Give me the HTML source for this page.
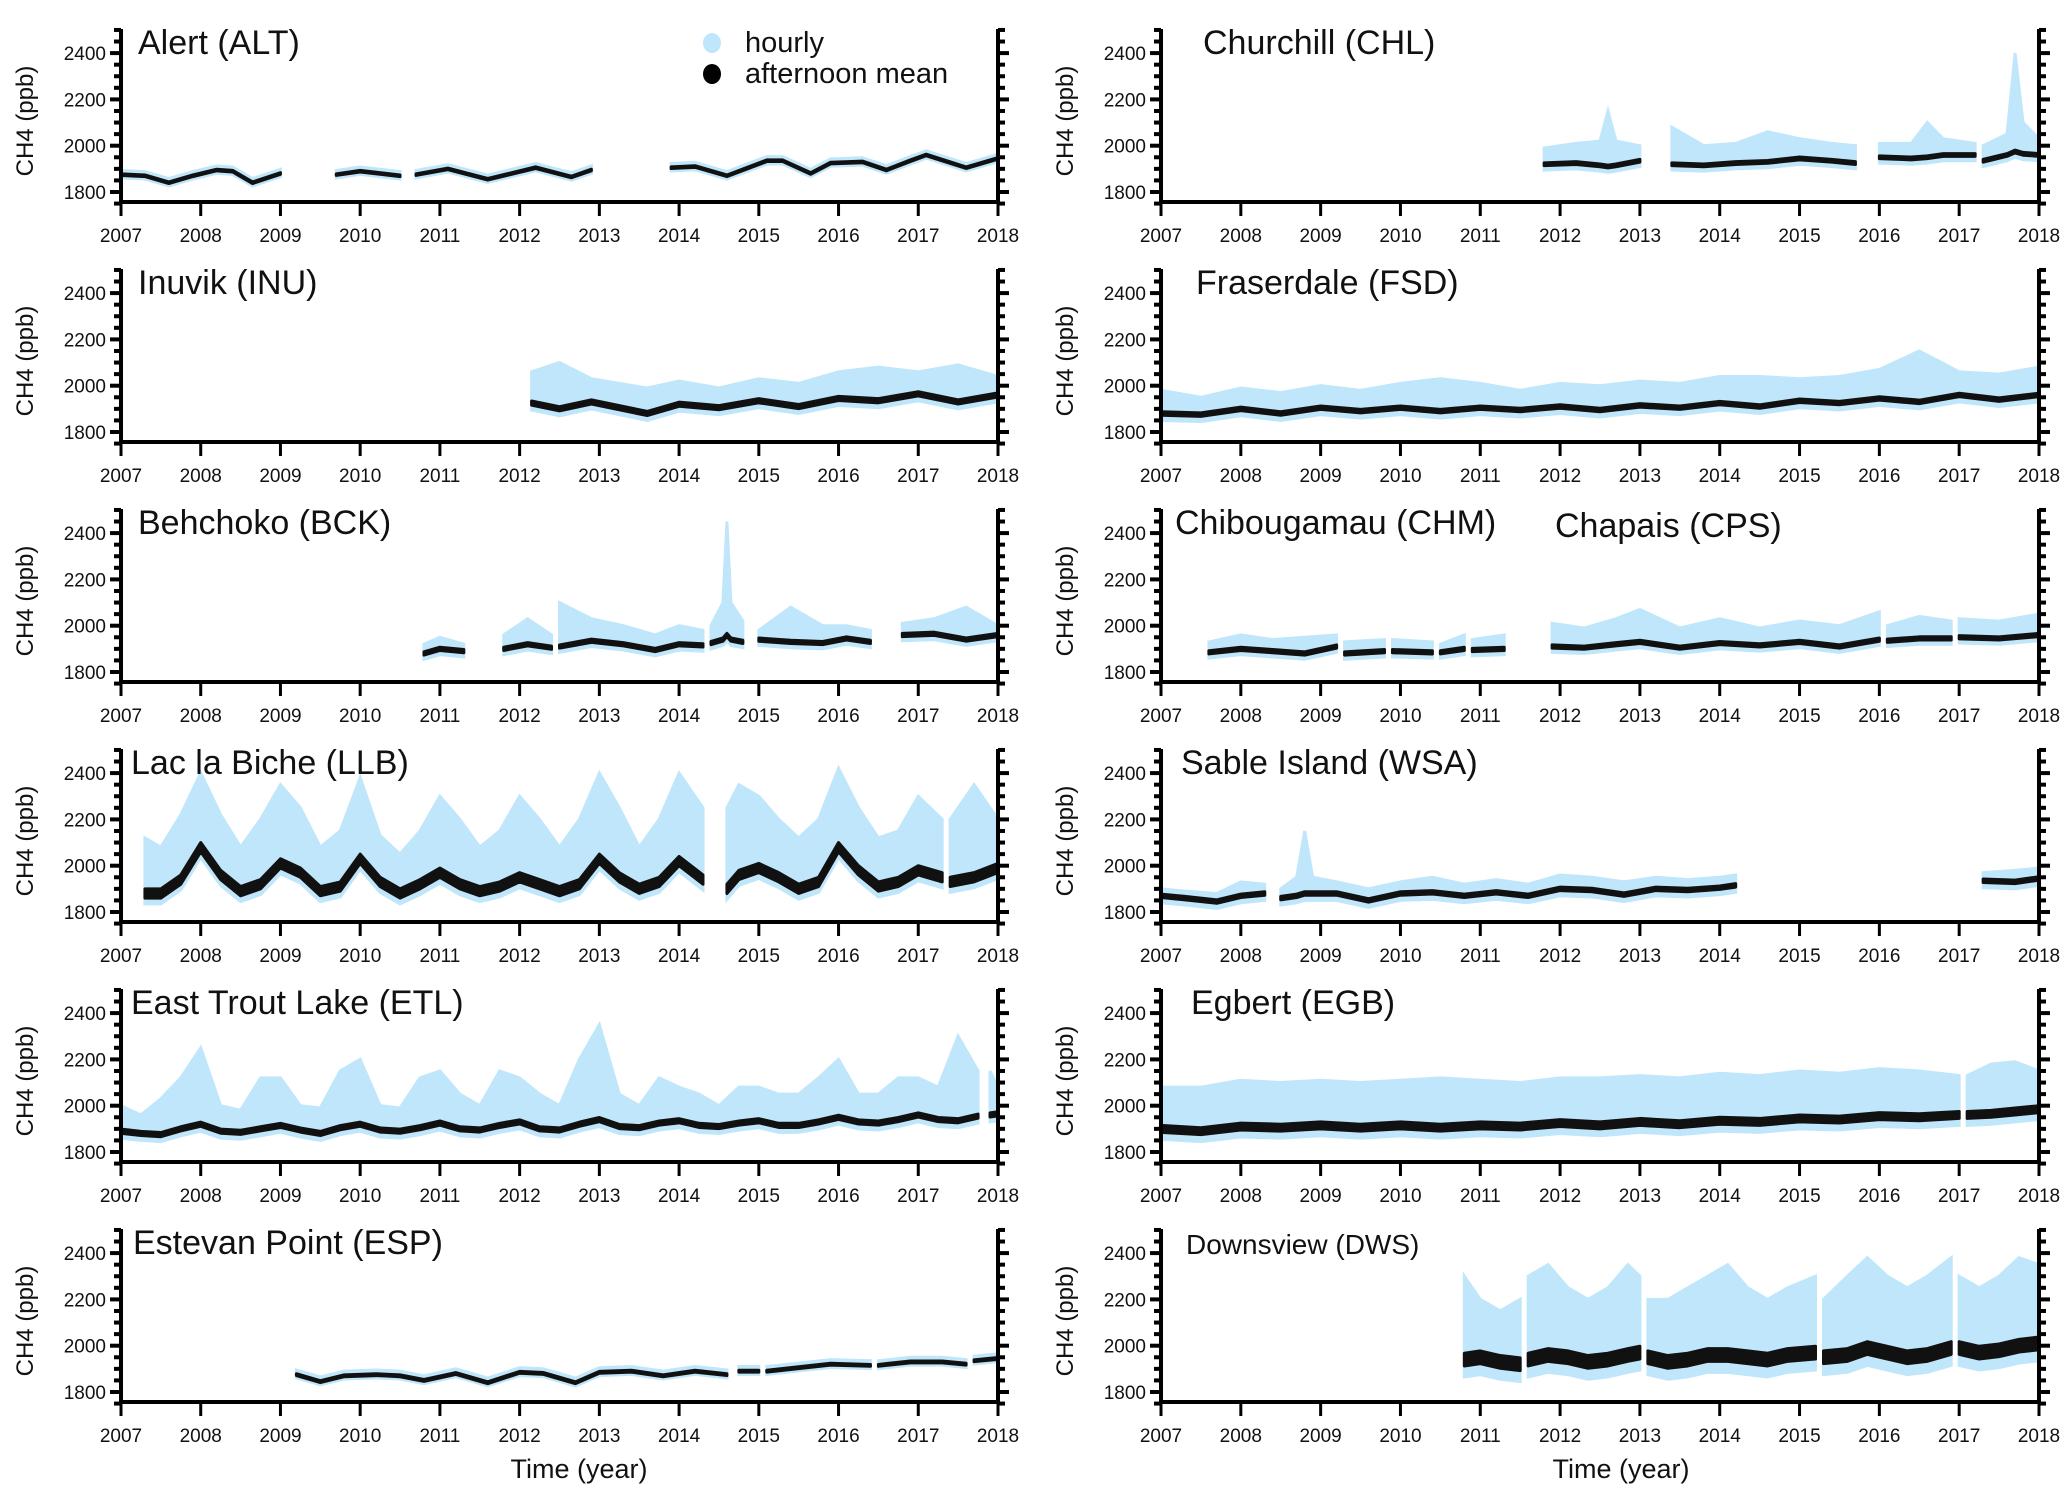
<!DOCTYPE html>
<html><head><meta charset="utf-8">
<style>
html,body{margin:0;padding:0;background:#fff;}
svg{display:block;font-family:"Liberation Sans",sans-serif;}
</style></head>
<body>
<svg id="fig" width="2067" height="1493" viewBox="0 0 2067 1493" xmlns="http://www.w3.org/2000/svg"></svg>
<script>
// ---------- data ----------
const years = [2007,2008,2009,2010,2011,2012,2013,2014,2015,2016,2017,2018];
const yTicks = [1800,2000,2200,2400];

const altT=[2007.0,2007.3,2007.6,2007.9,2008.2,2008.4,2008.65,2009.0,null,2009.7,2010.0,2010.5,null,2010.7,2011.1,2011.6,2011.9,2012.2,2012.65,2012.9,null,2013.9,2014.2,2014.6,2015.1,2015.3,2015.65,2015.9,2016.3,2016.6,2016.9,2017.1,2017.6,2018.0];
const altM=[1875,1870,1840,1870,1895,1890,1840,1880,null,1875,1890,1870,null,1875,1900,1855,1880,1905,1865,1895,null,1905,1910,1870,1935,1935,1880,1925,1930,1895,1935,1960,1905,1945];

const chlT=[2011.8,2012.2,2012.5,2012.6,2012.7,2013.0,null,2013.4,2013.8,2014.2,2014.6,2015.0,2015.4,2015.7,null,2016.0,2016.4,2016.6,2016.8,2017.2,null,2017.3,2017.6,2017.7,2017.8,2018.0];
const chlM=[1920,1925,1915,1910,1915,1935,null,1920,1915,1925,1930,1945,1935,1925,null,1950,1945,1950,1960,1960,null,1935,1960,1975,1965,1960];
const chlH=[1990,2010,2020,2150,2020,2000,null,2080,2000,2010,2060,2030,2010,2000,null,2010,2010,2100,2030,2010,null,2000,2050,2400,2100,2030];

const inuT=[2012.15,2012.5,2012.9,2013.6,2014.0,2014.5,2015.0,2015.5,2016.0,2016.5,2017.0,2017.5,2018.0];
const inuM=[1925,1900,1930,1880,1920,1905,1935,1910,1945,1935,1965,1930,1960];
const inuH=[2060,2100,2030,1990,2020,1990,2030,2010,2060,2080,2060,2090,2040];

const fsdT=[2007,2007.5,2008,2008.5,2009,2009.5,2010,2010.5,2011,2011.5,2012,2012.5,2013,2013.5,2014,2014.5,2015,2015.5,2016,2016.5,2017,2017.5,2018];
const fsdM=[1880,1875,1900,1880,1905,1890,1905,1890,1905,1895,1910,1895,1915,1905,1925,1910,1935,1925,1945,1930,1960,1940,1960];
const fsdH=[1980,1950,1990,1970,2000,1980,2010,2030,2010,1980,2010,2000,2020,2010,2040,2040,2030,2040,2070,2150,2060,2050,2080];

const bckT=[2010.8,2011.0,2011.3,null,2011.8,2012.1,2012.4,null,2012.5,2012.9,2013.3,2013.7,2014.0,2014.3,null,2014.4,2014.55,2014.6,2014.65,2014.8,null,2015.0,2015.4,2015.8,2016.1,2016.4,null,2016.8,2017.2,2017.6,2018.0];
const bckM=[1880,1900,1890,null,1900,1920,1905,null,1910,1935,1920,1895,1920,1915,null,1925,1940,1960,1940,1930,null,1940,1930,1925,1945,1930,null,1960,1965,1940,1960];
const bckH=[1920,1950,1920,null,1960,2030,1960,null,2100,2030,2000,1960,2000,1980,null,2000,2100,2450,2100,2020,null,1980,2080,2000,2000,1980,null,2010,2030,2080,2000];

const chmT=[2007.6,2008.0,2008.4,2008.8,2009.2,null,2009.3,2009.8,null,2009.9,2010.4,null,2010.5,2010.8,null,2010.9,2011.3,null,2011.9,2012.3,2012.7,2013.0,2013.5,2014.0,2014.5,2015.0,2015.5,2016.0,null,2016.1,2016.5,2016.9,null,2017.0,2017.5,2018.0];
const chmM=[1885,1900,1890,1880,1910,null,1880,1890,null,1890,1885,null,1885,1900,null,1895,1900,null,1910,1905,1920,1930,1905,1925,1915,1930,1910,1940,null,1935,1945,1945,null,1950,1945,1960];
const chmH=[1930,1960,1940,1950,1960,null,1930,1940,null,1940,1930,null,1920,1960,null,1940,1960,null,2010,1990,2030,2070,1990,2030,1990,2020,2000,2060,null,2000,2040,2020,null,2030,2020,2050];

const llbT=[2007.3,2007.5,2007.75,2008.0,2008.25,2008.5,2008.75,2009.0,2009.25,2009.5,2009.75,2010.0,2010.25,2010.5,2010.75,2011.0,2011.25,2011.5,2011.75,2012.0,2012.25,2012.5,2012.75,2013.0,2013.25,2013.5,2013.75,2014.0,2014.3,null,2014.6,2014.75,2015.0,2015.25,2015.5,2015.75,2016.0,2016.25,2016.5,2016.75,2017.0,2017.3,null,2017.4,2017.7,2018.0];
const llbM=[1880,1880,1940,2080,1960,1890,1920,2010,1970,1890,1910,2030,1930,1880,1920,1970,1920,1890,1910,1950,1920,1890,1920,2030,1950,1900,1930,2020,1940,null,1900,1960,1990,1950,1900,1930,2080,1980,1910,1930,1980,1950,null,1930,1950,1990];
const llbH=[2120,2080,2220,2400,2220,2080,2200,2350,2250,2080,2150,2380,2130,2050,2150,2300,2200,2080,2150,2300,2200,2080,2200,2400,2250,2080,2200,2400,2250,null,2250,2350,2300,2200,2120,2200,2420,2250,2120,2150,2300,2200,null,2200,2350,2200];

const wsaT=[2007.0,2007.3,2007.7,2008.0,2008.3,null,2008.5,2008.7,2008.8,2008.9,2009.2,2009.6,2010.0,2010.4,2010.8,2011.2,2011.6,2012.0,2012.4,2012.8,2013.2,2013.6,2014.0,2014.2,null,2017.3,2017.7,2018.0];
const wsaM=[1870,1860,1845,1870,1880,null,1860,1870,1880,1880,1880,1850,1880,1885,1870,1885,1870,1900,1895,1875,1900,1895,1905,1915,null,1935,1930,1945];
const wsaH=[1900,1890,1880,1930,1920,null,1900,1950,2150,1950,1930,1900,1930,1950,1920,1940,1920,1960,1950,1930,1950,1940,1950,1960,null,1970,1980,1990];

const etlT=[2007,2007.25,2007.5,2007.75,2008,2008.25,2008.5,2008.75,2009,2009.25,2009.5,2009.75,2010,2010.25,2010.5,2010.75,2011,2011.25,2011.5,2011.75,2012,2012.25,2012.5,2012.75,2013,2013.25,2013.5,2013.75,2014,2014.25,2014.5,2014.75,2015,2015.25,2015.5,2015.75,2016,2016.25,2016.5,2016.75,2017,2017.25,2017.5,2017.75,null,2017.9,2018.0];
const etlM=[1890,1880,1875,1900,1920,1890,1885,1900,1915,1895,1880,1905,1920,1895,1890,1905,1925,1900,1895,1915,1930,1900,1895,1920,1940,1910,1905,1925,1935,1915,1910,1925,1935,1915,1915,1930,1950,1930,1925,1940,1960,1940,1935,1955,null,1960,1965];
const etlH=[2000,1960,2030,2120,2250,2000,1980,2120,2120,2000,1990,2150,2200,2000,1990,2120,2150,2050,2000,2150,2120,2050,2000,2200,2350,2050,2000,2120,2080,2050,2000,2080,2080,2050,2050,2120,2200,2050,2050,2120,2120,2080,2300,2150,null,2150,2080];

const egbT=[2007,2007.5,2008,2008.5,2009,2009.5,2010,2010.5,2011,2011.5,2012,2012.5,2013,2013.5,2014,2014.5,2015,2015.5,2016,2016.5,2017.0,null,2017.1,2017.4,2017.7,2018.0];
const egbM=[1900,1890,1910,1905,1915,1905,1915,1905,1915,1910,1925,1915,1930,1920,1935,1930,1945,1940,1955,1950,1960,null,1960,1965,1975,1985];
const egbH=[2080,2080,2110,2100,2110,2100,2110,2120,2110,2100,2120,2120,2130,2120,2140,2130,2150,2140,2160,2150,2130,null,2130,2180,2190,2150];

const espT=[2009.2,2009.5,2009.8,2010.2,2010.5,2010.8,2011.2,2011.6,2012.0,2012.3,2012.7,2013.0,2013.4,2013.8,2014.2,2014.6,null,2014.75,2015.0,null,2015.1,2015.5,2015.9,2016.4,null,2016.5,2016.9,2017.3,2017.6,null,2017.7,2018.0];
const espM=[1875,1845,1870,1875,1870,1850,1880,1840,1885,1880,1840,1885,1890,1870,1890,1875,null,1890,1890,null,1890,1905,1920,1915,null,1915,1930,1930,1920,null,1935,1945];

const dwsT=[2010.8,2011.0,2011.25,2011.5,null,2011.6,2011.85,2012.1,2012.35,2012.6,2012.85,2013.0,null,2013.1,2013.35,2013.6,2013.85,2014.1,2014.35,2014.6,2014.85,2015.2,null,2015.3,2015.6,2015.85,2016.1,2016.35,2016.6,2016.9,null,2017.0,2017.25,2017.5,2017.75,2018.0];
const dwsM=[1940,1950,1930,1920,null,1940,1960,1950,1930,1940,1960,1970,null,1950,1930,1940,1960,1960,1950,1940,1960,1970,null,1950,1960,1990,1970,1950,1960,1990,null,1990,1970,1980,2000,2010];
const dwsH=[2300,2200,2150,2200,null,2300,2350,2250,2200,2250,2350,2300,null,2200,2200,2250,2300,2350,2250,2200,2250,2300,null,2200,2300,2380,2300,2250,2300,2380,null,2300,2250,2300,2380,2350];

const stationNames=["Alert (ALT)","Churchill (CHL)","Inuvik (INU)","Fraserdale (FSD)","Behchoko (BCK)","Chibougamau (CHM)","Lac la Biche (LLB)","Sable Island (WSA)","East Trout Lake (ETL)","Egbert (EGB)","Estevan Point (ESP)","Downsview (DWS)"];

// ---------- layout ----------
const svg=document.getElementById('fig');
const NS='http://www.w3.org/2000/svg';
function mk(tag,attrs,parent){const e=document.createElementNS(NS,tag);for(const k in attrs)e.setAttribute(k,attrs[k]);(parent||svg).appendChild(e);return e;}
const colX=[[121,998],[1161,2039]];
const rowTop=[29,269,509,749,989,1229];
const LIGHT='#bfe6fa';

const stations=[
 {t:altT,m:altM,h:null,hiOff:18,lo:14,bk:7,col:0,row:0,lx:17},
 {t:chlT,m:chlM,h:chlH,lo:25,bk:12,col:1,row:0,lx:42},
 {t:inuT,m:inuM,h:inuH,lo:30,bk:18,col:0,row:1,lx:17},
 {t:fsdT,m:fsdM,h:fsdH,lo:30,bk:15,col:1,row:1,lx:35},
 {t:bckT,m:bckM,h:bckH,lo:25,bk:14,col:0,row:2,lx:17},
 {t:chmT,m:chmM,h:chmH,lo:25,bk:14,col:1,row:2,lx:14},
 {t:llbT,m:llbM,h:llbH,lo:45,bk:40,col:0,row:3,lx:10},
 {t:wsaT,m:wsaM,h:wsaH,lo:30,bk:15,col:1,row:3,lx:20},
 {t:etlT,m:etlM,h:etlH,lo:30,bk:18,col:0,row:4,lx:10},
 {t:egbT,m:egbM,h:egbH,lo:45,bk:30,col:1,row:4,lx:30},
 {t:espT,m:espM,h:null,hiOff:20,lo:14,bk:8,col:0,row:5,lx:12},
 {t:dwsT,m:dwsM,h:dwsH,lo:75,bk:55,col:1,row:5,lx:25}
];

function segments(t){const segs=[];let cur=[];t.forEach((v,i)=>{if(v===null){if(cur.length)segs.push(cur);cur=[];}else cur.push(i);});if(cur.length)segs.push(cur);return segs;}

stations.forEach((s,si)=>{
  const x0=colX[s.col][0],x1=colX[s.col][1];
  const yT=rowTop[s.row],yB=yT+173;
  const xs=t=>x0+(t-2007)*(x1-x0)/11;
  const ys=v=>yB-10-(v-1800)*0.2315;
  const g=mk('g',{});
  
  
  segments(s.t).forEach(seg=>{
    const hi=i=>s.h?s.h[i]:s.m[i]+s.hiOff;
    let up=seg.map(i=>xs(s.t[i])+','+ys(hi(i))).join(' ');
    let dn=seg.slice().reverse().map(i=>xs(s.t[i])+','+ys(s.m[i]-s.lo)).join(' ');
    const p=mk('polygon',{points:up+' '+dn,fill:LIGHT,stroke:LIGHT,'stroke-width':3},g);
    
    
    let up2=seg.map(i=>xs(s.t[i])+','+ys(s.m[i]+s.bk/2)).join(' ');
    let dn2=seg.slice().reverse().map(i=>xs(s.t[i])+','+ys(s.m[i]-s.bk/2)).join(' ');
    const q=mk('polygon',{points:up2+' '+dn2,fill:'#111',stroke:'#111','stroke-width':3,'stroke-linejoin':'round'},g);
    
    
  });
  const ax=mk('path',{d:`M${x0},${yT} V${yB} H${x1} V${yT}`,fill:'none',stroke:'#000','stroke-width':4},g);
  
  
  for(let v=1750;v<=2500;v+=50){
    const y=ys(v);if(y<yT-1)continue;
    const L=(v%200===0)?11:7;
    mk('line',{x1:x0-L,x2:x0,y1:y,y2:y,stroke:'#000','stroke-width':4},g);
    mk('line',{x1:x1,x2:x1+L,y1:y,y2:y,stroke:'#000','stroke-width':4},g);
  }
  yTicks.forEach(v=>{
    const t=mk('text',{x:x0-15,y:ys(v)+7,'text-anchor':'end','font-size':19,fill:'#111'},g);
    t.textContent=v;
    
    
  });
  years.forEach(yr=>{
    const x=xs(yr);
    mk('line',{x1:x,x2:x,y1:yB,y2:yB+14,stroke:'#000','stroke-width':3},g);
    const t=mk('text',{x:x,y:yB+40,'text-anchor':'middle','font-size':19,fill:'#111'},g);
    t.textContent=yr;
    
    
  });
  const yt=mk('text',{x:0,y:0,'text-anchor':'middle','font-size':24,fill:'#111',transform:`translate(${x0-88},${yT+92}) rotate(-90)`},g);
  yt.textContent='CH4 (ppb)';
  
  
  const isDws=si===11;
  const lb=mk('text',{x:x0+s.lx,y:yT+25,'font-size':isDws?28:34,fill:'#111'},g);
  lb.textContent=stationNames[si];
  
  
  if(si===5){
    const lb2=mk('text',{x:1555,y:yT+28,'font-size':34,fill:'#111'},g);
    lb2.textContent='Chapais (CPS)';
    
    
  }
});

// legend
const lg=mk('g',{});


const c1=mk('ellipse',{cx:712,cy:43,rx:9,ry:10,fill:LIGHT},lg);


const t1=mk('text',{x:745,y:52,'font-size':29,fill:'#111'},lg);
t1.textContent='hourly';


const c2=mk('ellipse',{cx:712,cy:74,rx:9,ry:10,fill:'#000'},lg);


const t2=mk('text',{x:745,y:83,'font-size':29,fill:'#111'},lg);
t2.textContent='afternoon mean';



// x titles
[579,1621].forEach(px=>{
  const t=mk('text',{x:px,y:1478,'text-anchor':'middle','font-size':27,fill:'#111'});
  t.textContent='Time (year)';
  
  
});
</script>
</body></html>
